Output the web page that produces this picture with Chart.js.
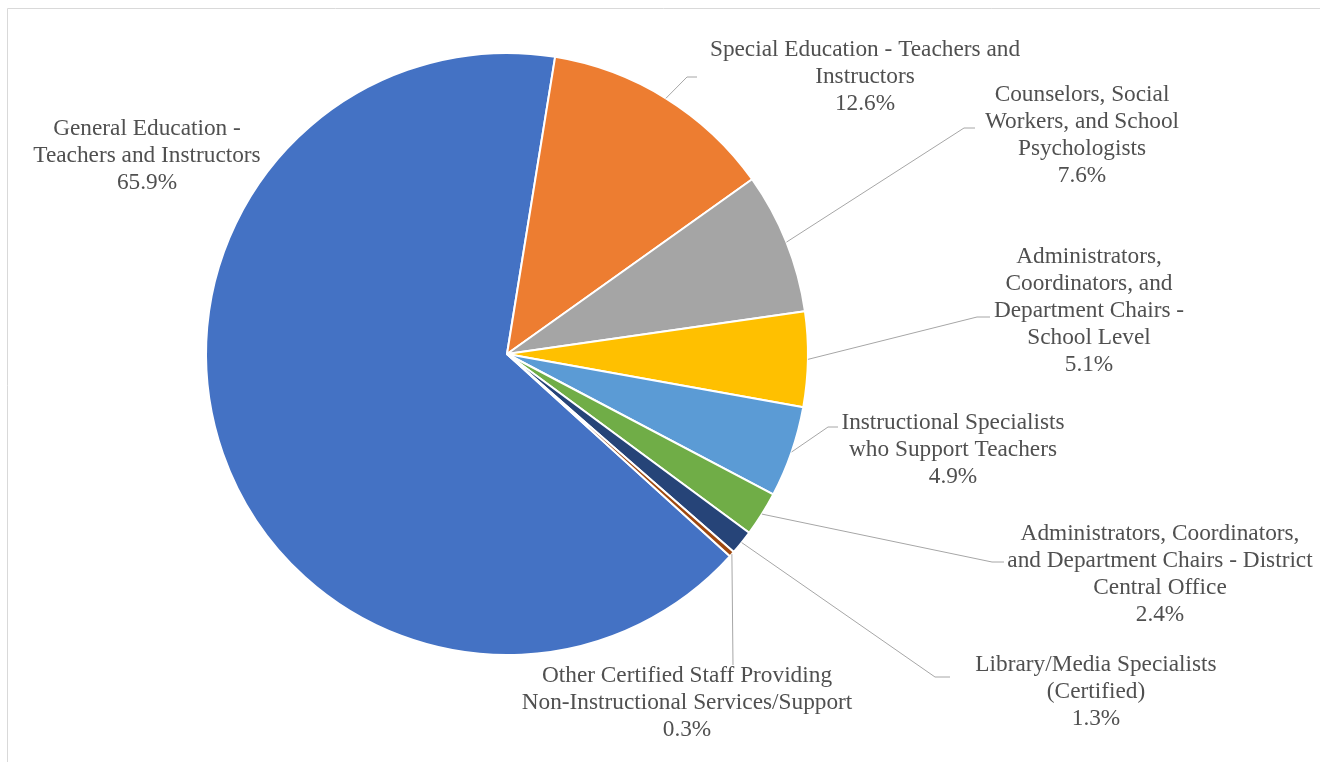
<!DOCTYPE html>
<html>
<head>
<meta charset="utf-8">
<script src="https://cdn.jsdelivr.net/npm/chart.js@4.4.1/dist/chart.umd.min.js"></script>
<style>
  html, body { margin: 0; padding: 0; background: #ffffff; }
  #wrap { width: 1320px; height: 762px; position: relative; }
</style>
</head>
<body>
<div id="wrap"><canvas id="c" width="1320" height="762"></canvas></div>
<script>
// ---- data ----
const categories = [
  "General Education - Teachers and Instructors",
  "Special Education - Teachers and Instructors",
  "Counselors, Social Workers, and School Psychologists",
  "Administrators, Coordinators, and Department Chairs - School Level",
  "Instructional Specialists who Support Teachers",
  "Administrators, Coordinators, and Department Chairs - District Central Office",
  "Library/Media Specialists (Certified)",
  "Other Certified Staff Providing Non-Instructional Services/Support"
];
const shares = [65.9, 12.6, 7.6, 5.1, 4.9, 2.4, 1.3, 0.3];
const labelLines = [
  ["General Education -", "Teachers and Instructors"],
  ["Special Education - Teachers and", "Instructors"],
  ["Counselors, Social", "Workers, and School", "Psychologists"],
  ["Administrators,", "Coordinators, and", "Department Chairs -", "School Level"],
  ["Instructional Specialists", "who Support Teachers"],
  ["Administrators, Coordinators,", "and Department Chairs - District", "Central Office"],
  ["Library/Media Specialists", "(Certified)"],
  ["Other Certified Staff Providing", "Non-Instructional Services/Support"]
];
const sliceColors = ["#4472C4", "#ED7D31", "#A5A5A5", "#FFC000", "#5B9BD5", "#70AD47", "#264478", "#9E480E"];

// ---- label placement (canvas px): text centre x, first baseline y, leader elbow & end ----
const labelLayout = [
  { x: 147,  y: 135, elbow: null,       end: null },
  { x: 865,  y: 56,  elbow: [687, 77],  end: [697, 77] },
  { x: 1082, y: 101, elbow: [964, 128], end: [975, 128] },
  { x: 1089, y: 263, elbow: [977, 317], end: [990, 317] },
  { x: 953,  y: 429, elbow: [828, 427], end: [838, 427] },
  { x: 1160, y: 540, elbow: [992, 562], end: [1004, 562] },
  { x: 1096, y: 671, elbow: [935, 677], end: [950, 677] },
  { x: 687,  y: 682, elbow: [733, 665], end: [733, 665] }
];
const lineHeight = 27;

const framePlugin = {
  id: 'frame',
  beforeDraw(chart) {
    const ctx = chart.ctx;
    ctx.save();
    ctx.strokeStyle = '#d9d9d9';
    ctx.lineWidth = 1;
    ctx.beginPath();
    ctx.moveTo(7.5, 762);
    ctx.lineTo(7.5, 8.5);
    ctx.lineTo(1320, 8.5);
    ctx.stroke();
    ctx.restore();
  }
};

const labelPlugin = {
  id: 'pieLabels',
  afterDatasetsDraw(chart) {
    const ctx = chart.ctx;
    const meta = chart.getDatasetMeta(0);
    const values = chart.data.datasets[0].data;
    ctx.save();
    meta.data.forEach((arc, i) => {
      const p = arc.getProps(['x', 'y', 'startAngle', 'endAngle', 'outerRadius'], true);
      const mid = (p.startAngle + p.endAngle) / 2;
      const ax = p.x + Math.cos(mid) * p.outerRadius;
      const ay = p.y + Math.sin(mid) * p.outerRadius;
      const lay = labelLayout[i];
      if (lay.elbow) {
        ctx.strokeStyle = '#a6a6a6';
        ctx.lineWidth = 1;
        ctx.beginPath();
        ctx.moveTo(ax, ay);
        ctx.lineTo(lay.elbow[0], lay.elbow[1]);
        ctx.lineTo(lay.end[0], lay.end[1]);
        ctx.stroke();
      }
      const lines = labelLines[i].concat([values[i].toFixed(1) + '%']);
      ctx.fillStyle = '#505050';
      ctx.font = "23.3px 'Liberation Serif', 'Times New Roman', serif";
      ctx.textAlign = 'center';
      ctx.textBaseline = 'alphabetic';
      lines.forEach((t, k) => {
        ctx.fillText(t, lay.x, lay.y + k * lineHeight);
      });
    });
    ctx.restore();
  }
};

new Chart(document.getElementById('c'), {
  type: 'pie',
  data: {
    labels: categories,
    datasets: [{
      data: shares,
      backgroundColor: sliceColors,
      borderColor: '#ffffff',
      borderWidth: 2
    }]
  },
  options: {
    responsive: false,
    animation: false,
    rotation: 132.2,
    radius: 301,
    layout: { padding: { left: 200, right: 506, top: 47, bottom: 101 } },
    plugins: {
      legend: { display: false },
      tooltip: { enabled: false }
    }
  },
  plugins: [framePlugin, labelPlugin]
});
</script>
</body>
</html>
